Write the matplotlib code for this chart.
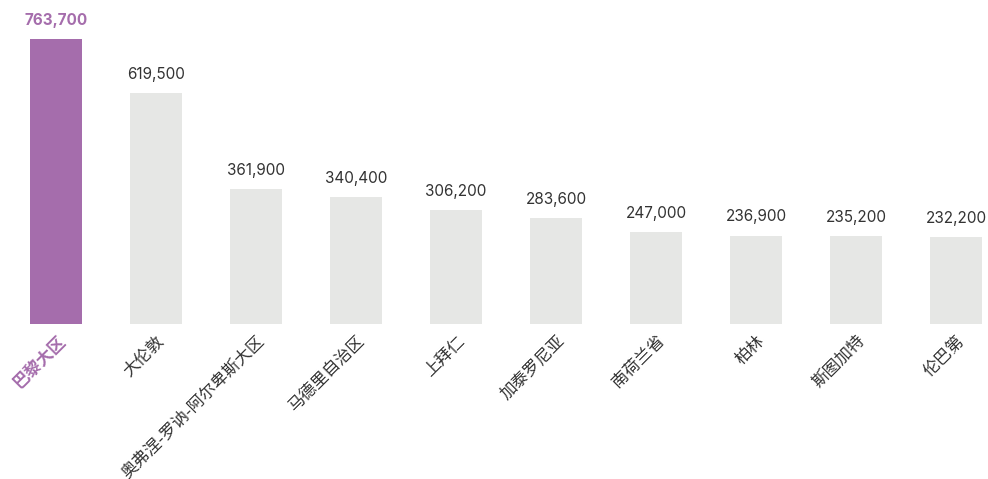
import matplotlib.pyplot as plt
import matplotlib.transforms as mtransforms

plt.rcParams['font.family'] = ['Noto Sans CJK SC', 'DejaVu Sans']

regions = ["巴黎大区", "大伦敦", "奥弗涅-罗讷-阿尔卑斯大区", "马德里自治区", "上拜仁",
           "加泰罗尼亚", "南荷兰省", "柏林", "斯图加特", "伦巴第"]
values = [763700, 619500, 361900, 340400, 306200, 283600, 247000, 236900, 235200, 232200]

PURPLE = "#a56dac"
GREY = "#e6e7e5"
TEXT = "#333333"

fig = plt.figure(figsize=(9.88, 4.79), dpi=100)
ax = fig.add_axes([0, 155 / 479, 1, 324 / 479])

x = list(range(len(values)))
colors = [PURPLE] + [GREY] * (len(values) - 1)
ax.bar(x, values, width=0.52, color=colors)

for i, v in enumerate(values):
    first = i == 0
    ax.annotate(f"{v:,}", (i, v), xytext=(0, 8), textcoords="offset points",
                ha="center", va="bottom", fontsize=11,
                family=["Inter", "DejaVu Sans"],
                color=PURPLE if first else TEXT,
                fontweight="bold" if first else "normal")

ax.set_xlim(-0.56, 9.32)
ax.set_ylim(0, 868200)
ax.set_xticks(x)
ax.set_xticklabels(regions, rotation=45, ha="right", va="top",
                   rotation_mode="anchor", fontsize=12)
shift = mtransforms.ScaledTranslation(7 / 100, 2 / 100, fig.dpi_scale_trans)
for i, lab in enumerate(ax.get_xticklabels()):
    lab.set_transform(lab.get_transform() + shift)
    lab.set_color(PURPLE if i == 0 else TEXT)
    if i == 0:
        lab.set_fontweight("bold")
ax.tick_params(axis="x", length=0, pad=6)
ax.tick_params(axis="y", left=False, labelleft=False)
for s in ax.spines.values():
    s.set_visible(False)

fig.savefig("out.png", dpi=100)
